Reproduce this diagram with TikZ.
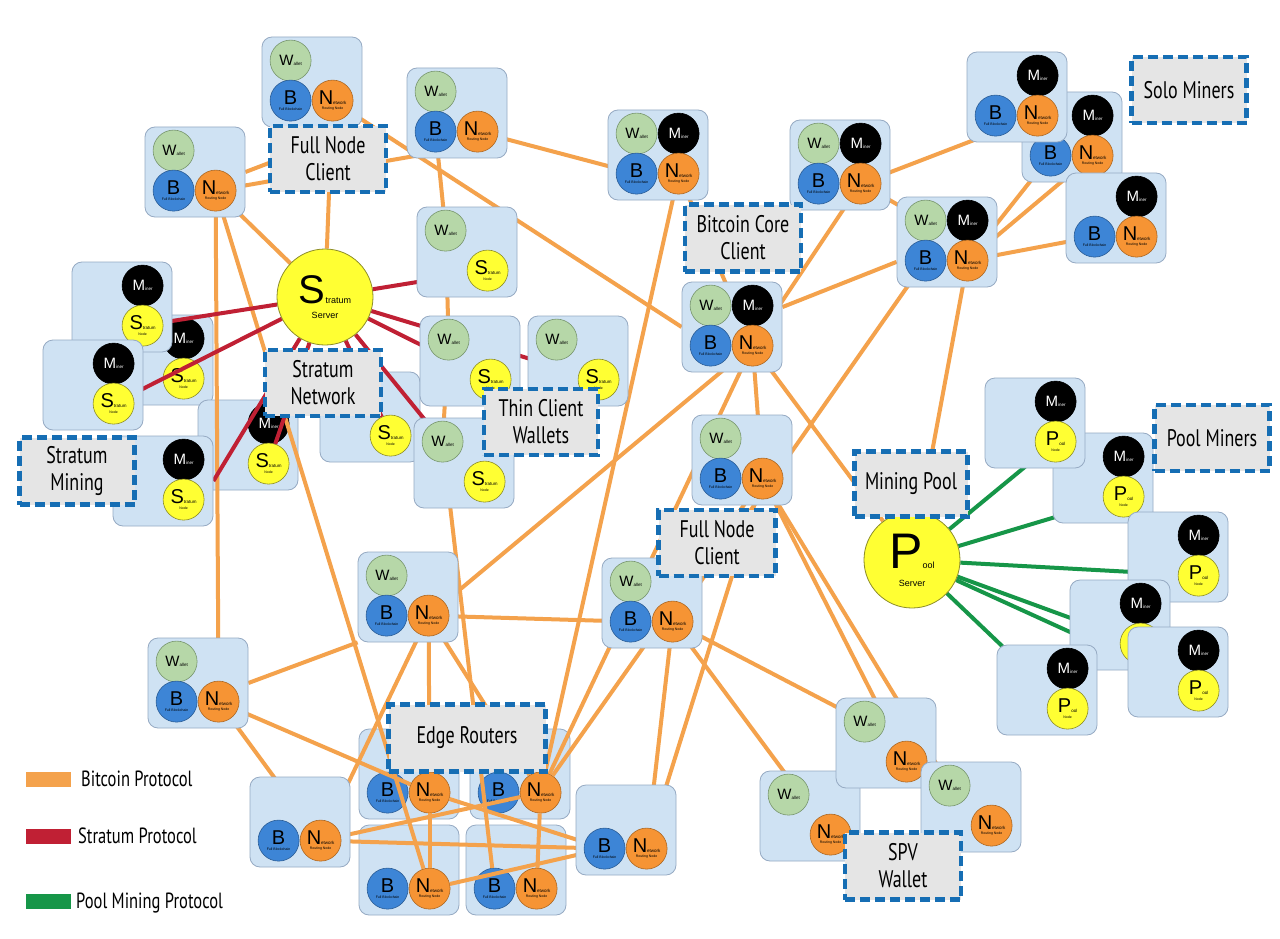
\documentclass[tikz,border=0pt]{standalone}
\usepackage{fontspec}
\setmainfont{Liberation Sans}
\newfontfamily\tagfont[FakeStretch=0.75]{PT Sans}
\usetikzlibrary{calc}
\pgfdeclarelayer{deep}
\pgfdeclarelayer{background}
\pgfdeclarelayer{foreground}
\pgfsetlayers{deep,background,main,foreground}

\definecolor{cardfill}{RGB}{207,226,243}
\definecolor{cardedge}{RGB}{150,170,195}
\definecolor{walletc}{RGB}{182,215,168}
\definecolor{walletedge}{RGB}{120,150,110}
\definecolor{chainc}{RGB}{61,133,214}
\definecolor{netc}{RGB}{246,148,52}
\definecolor{yellowc}{RGB}{255,255,51}
\definecolor{yellowedge}{RGB}{140,140,40}
\definecolor{btcline}{RGB}{244,162,76}
\definecolor{stratline}{RGB}{192,32,52}
\definecolor{poolline}{RGB}{22,150,72}
\definecolor{tagfill}{RGB}{229,229,229}
\definecolor{tagedge}{RGB}{22,110,180}

\newcommand{\bigltr}[1]{{\fontsize{20}{20}\selectfont #1}}
\newcommand{\midltr}[1]{{\fontsize{15}{15}\selectfont #1}}
\newcommand{\subltr}[1]{{\fontsize{4.5}{5}\selectfont #1}}
\newcommand{\capltr}[1]{{\fontsize{3.5}{4}\selectfont #1}}

\tikzset{
  Card/.style={rounded corners=10pt, fill=cardfill, draw=cardedge, line width=0.8pt,
    minimum width=100pt, minimum height=90pt, inner sep=0pt},
  Ball/.style={circle, minimum size=41pt, inner sep=0pt, line width=0.6pt, align=center,
    font=\fontsize{4}{4.5}\selectfont},
  Wball/.style={Ball, fill=walletc, draw=walletedge},
  Mball/.style={Ball, fill=black, draw=black, text=white},
  Bball/.style={Ball, fill=chainc, draw=chainc!70!black},
  Nball/.style={Ball, fill=netc, draw=netc!70!black},
  Sball/.style={Ball, fill=yellowc, draw=yellowedge},
  Server/.style={circle, minimum size=96pt, inner sep=0pt, fill=yellowc, draw=yellowedge,
    line width=0.8pt, align=center},
  Tag/.style={fill=tagfill, draw=tagedge, line width=4.5pt, dash pattern=on 10pt off 5pt,
    inner sep=0pt, align=center, font=\tagfont\fontsize{24}{27}\selectfont},
  Legend/.style={inner sep=0pt, anchor=base west, font=\tagfont\fontsize{22}{22}\selectfont},
  btc/.style={btcline, line width=4pt},
  strat/.style={stratline, line width=4pt},
  pool/.style={poolline, line width=4pt},
}

% card: name, left, top
\newcommand{\Card}[3]{\node[Card] (#1) at (#2+50,#3+45) {};}
\newcommand{\Wcirc}[1]{\node[Wball] (#1-w) at ($(#1.north west)+(29,24)$) {\midltr{W}\subltr{allet}};}
\newcommand{\Mcirc}[1]{\node[Mball] (#1-m) at ($(#1.north west)+(71,24)$) {\midltr{M}\subltr{iner}};}
\newcommand{\Bcirc}[1]{\node[Bball] (#1-b) at ($(#1.north west)+(29,64)$) {\bigltr{B}\\[1pt]\capltr{Full Blockchain}};}
\newcommand{\Ncirc}[1]{\node[Nball] (#1-n) at ($(#1.north west)+(71,64)$) {\bigltr{N}\subltr{etwork}\\[1pt]\capltr{Routing Node}};}
\newcommand{\Scirc}[1]{\node[Sball] (#1-s) at ($(#1.north west)+(71,64)$) {\bigltr{S}\subltr{tratum}\\[1pt]\capltr{Node}};}
\newcommand{\Pcirc}[1]{\node[Sball] (#1-p) at ($(#1.north west)+(71,64)$) {\bigltr{P}\subltr{ool}\\[1pt]\capltr{Node}};}

\begin{document}
\begin{tikzpicture}[x=1pt, y=-1pt]
\useasboundingbox (0,0) rectangle (1280,939);

% cards that the links run over
\begin{pgfonlayer}{deep}
\fill[white] (0,0) rectangle (1280,939);
\Card{sm2}{113}{315} \Mcirc{sm2} \Scirc{sm2}
\Card{sm5}{198}{400} \Mcirc{sm5} \Scirc{sm5}
\Card{s5}{320}{372} \Scirc{s5}
\Card{e5}{359}{729} \Bcirc{e5} \Ncirc{e5}
\Card{e6}{470}{729} \Bcirc{e6} \Ncirc{e6}
\Card{e7}{359}{825} \Bcirc{e7} \Ncirc{e7}
\Card{e8}{466}{825} \Bcirc{e8} \Ncirc{e8}
\end{pgfonlayer}

% full node clients, top left
\Card{fa}{262}{37} \Wcirc{fa} \Bcirc{fa} \Ncirc{fa}
\Card{fb}{407}{68} \Wcirc{fb} \Bcirc{fb} \Ncirc{fb}
\Card{fc}{145}{127} \Wcirc{fc} \Bcirc{fc} \Ncirc{fc}

% bitcoin core clients and solo miners
\Card{c4}{608}{110} \Wcirc{c4} \Mcirc{c4} \Bcirc{c4} \Ncirc{c4}
\Card{c5}{790}{120} \Wcirc{c5} \Mcirc{c5} \Bcirc{c5} \Ncirc{c5}
\Card{c7}{1022}{92} \Mcirc{c7} \Bcirc{c7} \Ncirc{c7}
\Card{c6}{967}{52} \Mcirc{c6} \Bcirc{c6} \Ncirc{c6}
\Card{c8}{1066}{173} \Mcirc{c8} \Bcirc{c8} \Ncirc{c8}
\Card{c9}{897}{197} \Wcirc{c9} \Mcirc{c9} \Bcirc{c9} \Ncirc{c9}
\Card{c10}{682}{282} \Wcirc{c10} \Mcirc{c10} \Bcirc{c10} \Ncirc{c10}
\Card{c11}{692}{415} \Wcirc{c11} \Bcirc{c11} \Ncirc{c11}

% stratum server, thin clients, stratum miners
\node[Server] (ss) at (325,297) {\fontsize{40}{40}\selectfont S\fontsize{9}{9}\selectfont tratum\\[3pt]\fontsize{9}{9}\selectfont Server};
\Card{s1}{417}{207} \Wcirc{s1} \Scirc{s1}
\Card{s2}{420}{316} \Wcirc{s2} \Scirc{s2}
\Card{s3}{528}{316} \Wcirc{s3} \Scirc{s3}
\Card{s4}{414}{418} \Wcirc{s4} \Scirc{s4}
\Card{sm1}{72}{262} \Mcirc{sm1} \Scirc{sm1}
\Card{sm3}{43}{340} \Mcirc{sm3} \Scirc{sm3}
\Card{sm4}{113}{436} \Mcirc{sm4} \Scirc{sm4}

% pool server and pool miners
\node[Server] (ps) at (912,560) {{\fontsize{50}{50}\selectfont P}{\fontsize{9}{9}\selectfont ool}\\[6pt]{\fontsize{9}{9}\selectfont Server}};
\Card{pm2}{1053}{433} \Mcirc{pm2} \Pcirc{pm2}
\Card{pm1}{985}{378} \Mcirc{pm1} \Pcirc{pm1}
\Card{pm3}{1128}{512} \Mcirc{pm3} \Pcirc{pm3}
\Card{pm4}{1070}{580} \Mcirc{pm4} \Pcirc{pm4}
\Card{pm5}{1128}{627} \Mcirc{pm5} \Pcirc{pm5}
\Card{pm6}{997}{645} \Mcirc{pm6} \Pcirc{pm6}

% edge routers
\Card{e1}{358}{552} \Wcirc{e1} \Bcirc{e1} \Ncirc{e1}
\Card{e2}{148}{638} \Wcirc{e2} \Bcirc{e2} \Ncirc{e2}
\Card{e3}{602}{558} \Wcirc{e3} \Bcirc{e3} \Ncirc{e3}
\Card{e4}{250}{777} \Bcirc{e4} \Ncirc{e4}
\Card{e9}{576}{785} \Bcirc{e9} \Ncirc{e9}

% spv wallets
\Card{v2}{760}{771} \Wcirc{v2} \Ncirc{v2}
\Card{v1}{836}{698} \Wcirc{v1} \Ncirc{v1}
\Card{v3}{921}{762} \Wcirc{v3} \Ncirc{v3}

% links
\begin{pgfonlayer}{background}
\foreach \a/\b in {fc.east/fa.south east, fc-n/fb-b.south, fc-n/ss, fc-n/e2-n, fc-n/e7-n,
    fa-n/ss, fa-n/c10.west, fb-n/c4-b, fb-b/s1-w, s1-w/s2-w, s2-w/s4-w, s4-w/e8-b,
    c4-n/e6-n, c4-n/c10-n, c5-n/c10-n, c5-n/c6-n, c5-n/c9-w, c9-n/c7-b, c9-n/c7-n,
    c9-n/c8-b, c10/c9, c10-n/e1-n, c10-n/c11-n, c10-n/e6-n, c9-n/ps, c10-n/ps,
    c9-b/e3-n, c11-n/v1-n, c11-n/v3-w, c11-n/e9-n, c11-n/e6-n, e3-n/e9-n,
    e2.east/e1.south west, e2-n/e5-n, e2-n/e4-n, e1-n/e4-n, e1-n/e5-n, e1-n/e6-n,
    e1-n/e3-b, e3-n/v1-w, e3-n/v2-n, e5-n/e9-b, e4-n/e6-n, e4-n/e9-b, e5-n/e7-n,
    e6-n/e8-n, e7-n/e9-b}
  \draw[btc] (\a) -- (\b);
\foreach \b in {sm1-s, sm3-s, sm4.east, sm5-s, s1-s, s2-s, s3-s, s4-w, s5-s}
  \draw[strat] (ss) -- (\b);
\foreach \b in {pm1-p, pm2-p, pm3-p, pm4-p, pm5-p, pm6-p}
  \draw[pool] (ps) -- (\b);
\end{pgfonlayer}

% group labels
\begin{pgfonlayer}{foreground}
\node[Tag, minimum width=116pt, minimum height=66pt] (t-fnc) at (328,159) {Full Node\\Client};
\node[Tag, minimum width=116pt, minimum height=66pt] (t-snet) at (323,383) {Stratum\\Network};
\node[Tag, minimum width=114pt, minimum height=66pt] (t-thin) at (541,422) {Thin Client\\Wallets};
\node[Tag, minimum width=115pt, minimum height=67pt] (t-smin) at (77,471) {Stratum\\Mining};
\node[Tag, minimum width=116pt, minimum height=67pt] (t-core) at (743,238) {Bitcoin Core\\Client};
\node[Tag, minimum width=115pt, minimum height=66pt] (t-solo) at (1189,90) {Solo Miners};
\node[Tag, minimum width=115pt, minimum height=66pt] (t-pmin) at (1212,438) {Pool Miners};
\node[Tag, minimum width=113pt, minimum height=65pt] (t-mpool) at (911,484) {Mining Pool};
\node[Tag, minimum width=117pt, minimum height=66pt] (t-fnc2) at (717,543) {Full Node\\Client};
\node[Tag, minimum width=157pt, minimum height=67pt] (t-edge) at (467,738) {Edge Routers};
\node[Tag, minimum width=116pt, minimum height=67pt] (t-spv) at (903,866) {SPV\\Wallet};
\end{pgfonlayer}

% legend
\fill[btcline] (26,772) rectangle (71,787);
\fill[stratline] (26,829) rectangle (71,844);
\fill[poolline] (26,894) rectangle (71,909);
\node[Legend] (l-btc) at (81,786) {Bitcoin Protocol};
\node[Legend] (l-strat) at (78,843) {Stratum Protocol};
\node[Legend] (l-pool) at (76,908) {Pool Mining Protocol};
\end{tikzpicture}
\end{document}
